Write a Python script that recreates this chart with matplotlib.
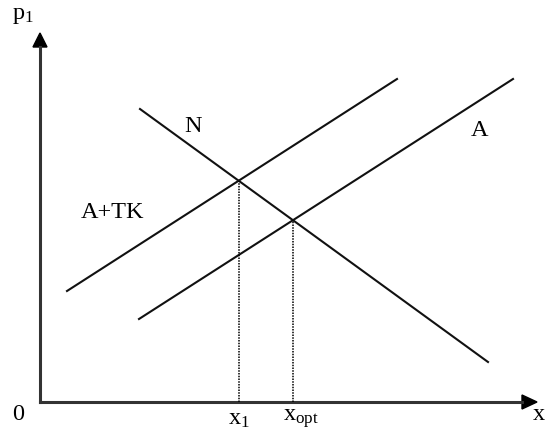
import matplotlib
matplotlib.use("Agg")
import matplotlib.pyplot as plt
import numpy as np

plt.rcParams['mathtext.fontset'] = 'custom'
plt.rcParams['mathtext.rm'] = 'Liberation Serif'
plt.rcParams['mathtext.it'] = 'Liberation Serif'

# Curves (quantity x, price p1), endpoints
N_x = [100, 448]
N_y = [293, 40]
ATK_x = [27, 357]
ATK_y = [111, 323]
A_x = [99, 473]
A_y = [83, 323]

curve_labels = ["N", "A+TK", "A"]
tick_labels = [r"$\mathrm{x}_1$", r"$\mathrm{x}_{\mathrm{opt}}$"]


def intersect(x1, y1, x2, y2):
    m1 = (y1[1] - y1[0]) / (x1[1] - x1[0])
    m2 = (y2[1] - y2[0]) / (x2[1] - x2[0])
    x = (y2[0] - m2 * x2[0] - y1[0] + m1 * x1[0]) / (m1 - m2)
    return x, y1[0] + m1 * (x - x1[0])


fig = plt.figure(figsize=(5.47, 4.34), dpi=100)
ax = fig.add_axes([0, 0, 1, 1])
ax.set_xlim(-40, 507)
ax.set_ylim(-32, 402)
ax.axis('off')

lc = '#111111'
ax.plot(N_x, N_y, color=lc, lw=1.5)
ax.plot(ATK_x, ATK_y, color=lc, lw=1.5)
ax.plot(A_x, A_y, color=lc, lw=1.5)

# axes with arrows
ax.plot([0, 0], [0, 355], color='#333333', lw=2.2, solid_capstyle='projecting')
ax.plot([0, 482], [0, 0], color='#333333', lw=2.2, solid_capstyle='projecting')
ax.add_patch(plt.Polygon([[-7, 355], [7, 355], [0, 369]], closed=True, color='black'))
ax.add_patch(plt.Polygon([[482, -7], [482, 7], [497, 0]], closed=True, color='black'))

# equilibrium points and dotted droplines
p1 = intersect(ATK_x, ATK_y, N_x, N_y)
p2 = intersect(A_x, A_y, N_x, N_y)
for (px, py) in (p1, p2):
    ax.plot([px, px], [0, py], color='black', lw=1.1, linestyle=(0, (1, 0.8)))

fs = 17.5
ff = 'Liberation Serif'
ax.text(153, 275, curve_labels[0], fontsize=fs, family=ff, ha='center', va='center')
ax.text(73, 189, curve_labels[1], fontsize=fs, family=ff, ha='center', va='center')
ax.text(440, 272, curve_labels[2], fontsize=fs, family=ff, ha='center', va='center')

ax.text(p1[0], -17, tick_labels[0], fontsize=fs, family=ff, ha='center', va='center')
ax.text(p2[0] + 8, -17, tick_labels[1], fontsize=fs, family=ff, ha='center', va='center')
ax.text(-22, -13, "0", fontsize=fs, family=ff, ha='center', va='center')
ax.text(499, -13, "x", fontsize=fs, family=ff, ha='center', va='center')
ax.text(-17, 386, r"$\mathrm{p}_1$", fontsize=fs, family=ff, ha='center', va='center')

fig.savefig("out.png", dpi=100)
